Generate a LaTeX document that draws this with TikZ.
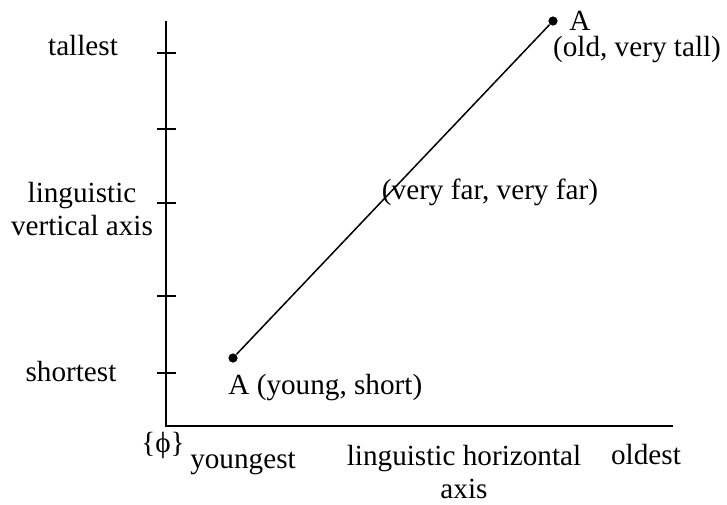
\documentclass[tikz,border=0pt]{standalone}
\usepackage{fontspec}
\setmainfont{Liberation Serif}
\usetikzlibrary{positioning}
\tikzset{
  dot/.style={circle,fill=black,inner sep=0pt,minimum size=4.6pt},
  lbl/.style={inner sep=0pt,align=center},
}

\begin{document}
\begin{tikzpicture}[x=0.5pt,y=-0.5pt,font=\fontsize{14.6}{16.5}\selectfont]
  \useasboundingbox (0,0) rectangle (727,504);
  % axes
  \coordinate (ytop) at (166,21);
  \coordinate (orig) at (166,426);
  \coordinate (xend) at (673,426);
  \draw[line width=1pt] (ytop) -- (orig) -- (xend);
  \foreach \ty in {53,129,203,296,373}
    \draw[line width=0.9pt] (157,\ty) -- (176,\ty);
  % axis labels
  \node[lbl] (tall) at (83,46) {tallest};
  \node[lbl] (vaxis) at (82,209) {linguistic\\vertical axis};
  \node[lbl] (short) at (71,372) {shortest};
  \node[lbl] (empty) at (163,445) {\{ϕ\}};
  \node[lbl] (young) at (243,463) {youngest};
  \node[lbl] (haxis) at (464,472) {linguistic horizontal\\axis};
  \node[lbl] (oldest) at (646,455) {oldest};
  % the two points
  \node[dot] (pA) at (233,358) {};
  \node[dot] (pB) at (553,21) {};
  \draw[line width=0.75pt] (pA) -- (pB);
  \node[lbl,anchor=north west] (pAlbl) at (228,374) {A (young, short)};
  \node[lbl,anchor=west] (pBname) at (569,21) {A};
  \node[lbl] (pBlbl) at (637,50) {(old, very tall)};
  \node[lbl] (dist) at (490,192) {(very far, very far)};
\end{tikzpicture}
\end{document}
